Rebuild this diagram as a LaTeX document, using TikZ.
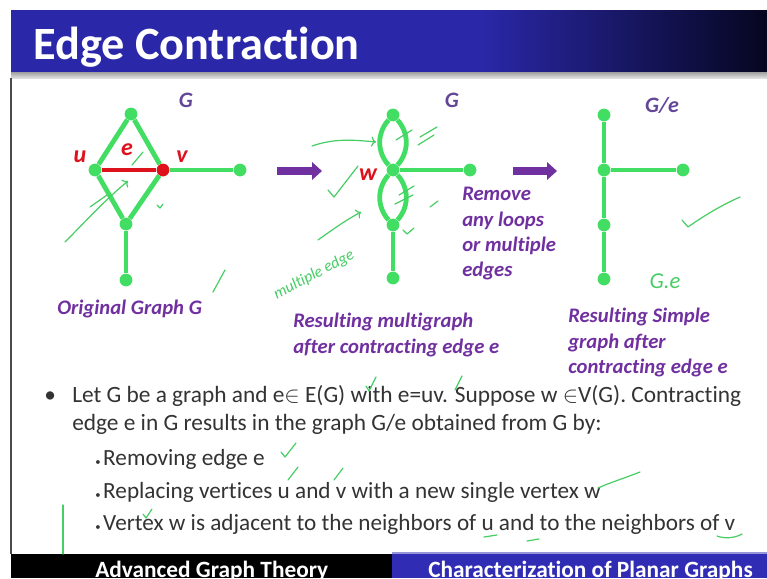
\documentclass[tikz,border=0pt]{standalone}
\usepackage{fontspec}
\setmainfont{Carlito}[Ligatures=NoCommon]
\usetikzlibrary{arrows.meta}

\definecolor{slideblue}{RGB}{42,40,168}
\definecolor{slidenavy}{RGB}{6,6,32}
\definecolor{footblue}{RGB}{48,44,180}
\definecolor{edgegreen}{RGB}{66,222,100}
\definecolor{edgered}{RGB}{222,18,28}
\definecolor{labelpurple}{RGB}{112,48,160}
\definecolor{graphgrey}{RGB}{100,70,152}
\definecolor{pengreen}{RGB}{70,205,100}

\tikzset{
  vtx/.style={circle, fill=edgegreen, inner sep=0pt, minimum size=9.6pt},
  gedge/.style={draw=edgegreen, line width=3.6pt},
  vlbl/.style={text=edgered, font=\bfseries\itshape\fontsize{18}{18}\selectfont, inner sep=0pt},
  glbl/.style={text=graphgrey, font=\bfseries\itshape\fontsize{16.5}{16.5}\selectfont, inner sep=0pt},
  captext/.style={text=labelpurple, font=\bfseries\itshape\fontsize{15.5}{19}\selectfont, align=left, inner sep=0pt},
  bodytext/.style={text=black!80, font=\fontsize{17.5}{21}\selectfont, inner sep=0pt, anchor=base west},
  subtext/.style={text=black!80, font=\fontsize{17.4}{21}\selectfont, inner sep=0pt, anchor=base west},
  bigarrow/.style={draw=labelpurple, line width=6pt, -{Triangle[length=7.5pt, width=13pt]}},
  pen/.style={draw=pengreen, line width=0.9pt, line cap=round, line join=round},
  pentext/.style={text=pengreen, font=\itshape\fontsize{12}{12}\selectfont, inner sep=0pt}
}

\begin{document}
\begin{tikzpicture}[x=0.75pt, y=-0.75pt]
  \useasboundingbox (0,0) rectangle (767,578);
  \fill[white] (0,0) rectangle (767,578);

  % slide frame: title bar, rule, footer
  \fill[slideblue] (11,10) rectangle (480,72);
  \shade[left color=slideblue, right color=slidenavy] (479.5,10) rectangle (767,72);
  \shade[top color=gray!75, bottom color=gray!25] (11,72) rectangle (767,78);
  \draw[black!70, line width=0.8pt] (11,78) -- (11,554);
  \fill[black] (11,554) rectangle (392,578);
  \fill[footblue] (392,554) rectangle (767,578);
  \draw[footblue!50, line width=0.8pt] (392,553) -- (767,553);

  \node[anchor=base west, text=white, inner sep=0pt,
        font=\bfseries\fontsize{34.7}{34.7}\selectfont] (title) at (33,59) {Edge Contraction};

  % original graph G
  \node[vtx] (t1) at (131,114) {};
  \node[vtx] (u) at (95,170) {};
  \node[vtx, fill=edgered] (v) at (163,170) {};
  \node[vtx] (r1) at (240,170) {};
  \node[vtx] (m1) at (126,224) {};
  \node[vtx] (b1) at (126,280) {};
  \draw[gedge] (t1) -- (u);
  \draw[gedge] (t1) -- (v);
  \draw[gedge] (u) -- (m1);
  \draw[gedge] (v) -- (m1);
  \draw[gedge] (v) -- (r1);
  \draw[gedge] (m1) -- (b1);
  \draw[gedge, draw=edgered] (u) -- (v);
  \node[glbl, anchor=base] (g1) at (186,107) {G};
  \node[vlbl, anchor=base] (ulbl) at (80,162) {u};
  \node[vlbl, anchor=base] (elbl) at (127,155) {e};
  \node[vlbl, anchor=base] (vlbl) at (182,162) {v};
  \node[captext, anchor=base west] (cap1) at (57,314) {Original Graph G};

  % first arrow
  \coordinate (a1s) at (277,171);
  \coordinate (a1e) at (322,171);
  \draw[bigarrow] (a1s) -- (a1e);

  % multigraph after contracting e
  \node[vtx] (t2) at (393,115) {};
  \node[vtx] (w) at (393,170) {};
  \node[vtx] (m2) at (393,225) {};
  \node[vtx] (b2) at (393,278) {};
  \node[vtx] (r2) at (470,170) {};
  \draw[gedge] (t2) to[bend left=42] (w);
  \draw[gedge] (t2) to[bend right=42] (w);
  \draw[gedge] (w) to[bend left=42] (m2);
  \draw[gedge] (w) to[bend right=42] (m2);
  \draw[gedge] (w) -- (r2);
  \draw[gedge] (m2) -- (b2);
  \node[glbl, anchor=base] (g2) at (452,107) {G};
  \node[vlbl, anchor=base] (wlbl) at (368,180) {w};
  \node[captext, anchor=north west] (cap2) at (293,313) {Resulting multigraph\\after contracting edge e};
  \node[captext, anchor=north west] (rmv) at (462,187) {Remove\\any loops\\or multiple\\edges};

  % second arrow
  \coordinate (a2s) at (513,171);
  \coordinate (a2e) at (557,171);
  \draw[bigarrow] (a2s) -- (a2e);

  % simple graph G/e
  \node[vtx] (t3) at (604,115) {};
  \node[vtx] (x3) at (604,170) {};
  \node[vtx] (r3) at (683,170) {};
  \node[vtx] (m3) at (604,225) {};
  \node[vtx] (b3) at (604,279) {};
  \draw[gedge] (t3) -- (x3);
  \draw[gedge] (x3) -- (r3);
  \draw[gedge] (x3) -- (m3);
  \draw[gedge] (m3) -- (b3);
  \node[glbl, anchor=base] (g3) at (662,112) {G/e};
  \node[captext, anchor=north west] (cap3) at (568,308) {Resulting Simple\\graph after\\contracting edge e};

  % bullet text
  \node[bodytext] (bul) at (44,402) {\textbullet};
  \node[bodytext] (line1) at (72,402) {Let G be a graph and e\ensuremath{\in} E(G) with e=uv. Suppose w \ensuremath{\in}V(G). Contracting};
  \node[bodytext] (line2) at (72,430) {edge e in G results in the graph G/e obtained from G by:};
  \node[subtext] (sub1) at (95,465) {{\footnotesize\textbullet}\hspace{2pt}Removing edge e};
  \node[subtext] (sub2) at (95,498) {{\footnotesize\textbullet}\hspace{2pt}Replacing vertices u and v with a new single vertex w};
  \node[subtext] (sub3) at (95,530) {{\footnotesize\textbullet}\hspace{2pt}Vertex w is adjacent to the neighbors of u and to the neighbors of v};

  % footer
  \node[anchor=base west, text=white, inner sep=0pt, font=\bfseries\fontsize{17.5}{17.5}\selectfont]
    (foot1) at (95,577) {Advanced Graph Theory};
  \node[anchor=base west, text=white, inner sep=0pt, font=\bfseries\fontsize{17.5}{17.5}\selectfont]
    (foot2) at (428,577) {Characterization of Planar Graphs};

  % pen marks
  \draw[pen, ->] (65,242) .. controls (85,222) and (105,200) .. (128,181);
  \draw[pen] (90,207) -- (107,195);
  \draw[pen] (132,165) -- (143,152);
  \draw[pen] (157,205) -- (160,208) -- (163,204);
  \draw[pen] (213,292) -- (225,270);
  \draw[pen, ->] (312,146) .. controls (335,138) and (355,140) .. (376,142);
  \draw[pen] (328,190) -- (334,197) -- (358,166);
  \draw[pen, ->] (318,240) .. controls (332,230) and (346,220) .. (361,212);
  \node[pentext, rotate=28] (multi) at (314,275) {multiple edge};
  \draw[pen] (396,140) -- (412,130);
  \draw[pen] (420,137) -- (437,127);
  \draw[pen] (418,145) -- (434,135);
  \draw[pen] (399,195) -- (414,186);
  \draw[pen] (395,204) -- (413,195);
  \draw[pen] (430,207) -- (438,201);
  \draw[pen] (403,230) -- (407,234) -- (414,228);
  \node[pentext, font=\itshape\fontsize{17}{17}\selectfont] (ge) at (665,281) {G.e};
  \draw[pen] (682,220) -- (688,227) .. controls (705,215) and (722,205) .. (740,197);
  \draw[pen] (366,386) -- (369,391) -- (376,377);
  \draw[pen] (455,390) -- (462,376);
  \draw[pen] (281,452) -- (285,457) -- (296,443);
  \draw[pen] (288,480) -- (298,467);
  \draw[pen] (334,480) -- (343,468);
  \draw[pen] (598,488) -- (605,485) .. controls (618,480) and (630,476) .. (640,472);
  \draw[pen] (143,514) -- (146,518) -- (152,509);
  \draw[pen] (63,505) -- (63,554);
  \draw[pen] (484,537) -- (497,535);
  \draw[pen] (527,541) -- (539,539);
  \draw[pen] (717,536) .. controls (725,539) and (735,538) .. (742,534);
\end{tikzpicture}
\end{document}
